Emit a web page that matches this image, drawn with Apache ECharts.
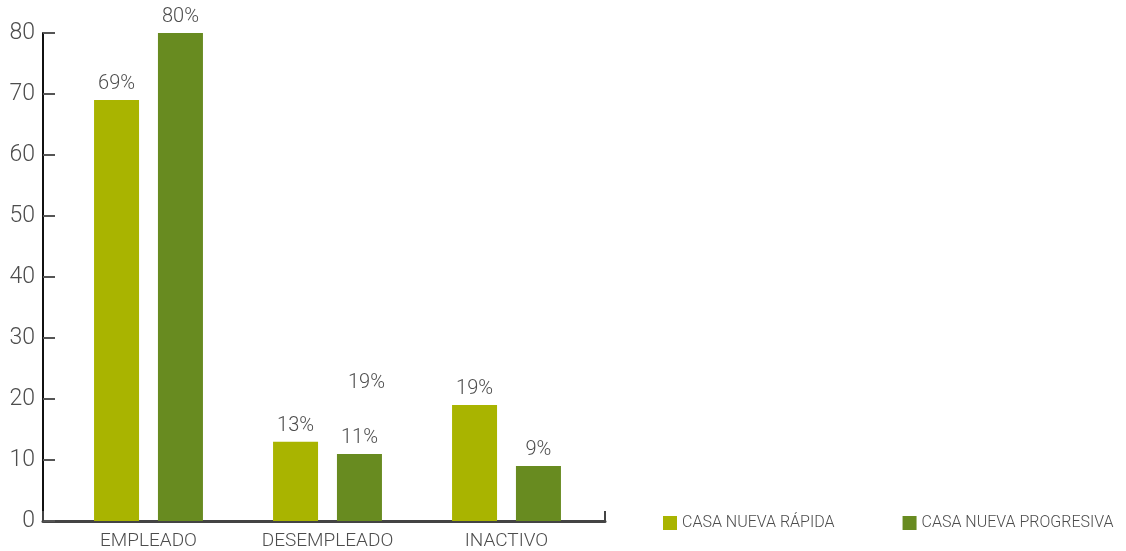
<!DOCTYPE html>
<html>
<head>
<meta charset="utf-8">
<script src="https://cdn.jsdelivr.net/npm/echarts@6/dist/echarts.min.js"></script>
<style>
  html, body { margin: 0; padding: 0; background: #fff; }
  #chart { width: 1126px; height: 551px; }
</style>
</head>
<body>
<div id="chart"></div>
<script>
// Situación laboral por tipo de casa
const categories = ['EMPLEADO', 'DESEMPLEADO', 'INACTIVO'];
const seriesNames = ['CASA NUEVA RÁPIDA', 'CASA NUEVA PROGRESIVA'];
const rapida = [69, 13, 19];
const progresiva = [80, 11, 9];
// extra note drawn above the DESEMPLEADO pair
const notaCategoria = 'DESEMPLEADO';
const notaValor = 22.5;
const notaTexto = '19%';

const FONT = 'Roboto, "Liberation Sans", sans-serif';
const TEXT = '#4d4d4d';

const chart = echarts.init(document.getElementById('chart'), null, { renderer: 'canvas' });

const barLabel = {
  show: true,
  position: 'top',
  distance: 6,
  formatter: '{c}%',
  fontFamily: FONT,
  fontWeight: 300,
  fontSize: 20,
  color: TEXT
};

chart.setOption({
  animation: false,
  backgroundColor: '#fff',
  grid: [
    { left: 59, right: 530, top: 33, bottom: 30, containLabel: false, outerBoundsMode: 'none' },
    { left: 43, right: 521, top: 33, bottom: 30, containLabel: false, outerBoundsMode: 'none' }
  ],
  legend: {
    data: seriesNames,
    left: 658,
    top: 510,
    itemWidth: 14,
    itemHeight: 14,
    itemGap: 68,
    icon: 'rect',
    textStyle: { fontFamily: FONT, fontWeight: 300, fontSize: 16, color: TEXT }
  },
  xAxis: [
    {
      type: 'category',
      gridIndex: 0,
      data: categories,
      axisLine: { show: false },
      axisTick: { show: false },
      axisLabel: {
        margin: 11,
        fontFamily: FONT,
        fontWeight: 300,
        fontSize: 19,
        color: TEXT
      }
    },
    {
      // baseline spanning the full plot width, with an end tick
      type: 'category',
      gridIndex: 1,
      data: ['', ''],
      boundaryGap: false,
      axisLine: { show: true, lineStyle: { color: '#444', width: 3 } },
      axisTick: { show: true, inside: true, length: 10, lineStyle: { color: '#444', width: 2 } },
      axisLabel: { show: false }
    }
  ],
  yAxis: [
    {
      type: 'value',
      gridIndex: 0,
      min: 0,
      max: 80,
      interval: 10,
      offset: 16,
      splitLine: { show: false },
      axisLine: { show: true, lineStyle: { color: '#111', width: 2 } },
      axisTick: { show: true, inside: true, length: 12, lineStyle: { color: '#555', width: 2 } },
      axisLabel: {
        margin: 8,
        fontFamily: FONT,
        fontWeight: 300,
        fontSize: 23,
        color: TEXT
      }
    },
    {
      type: 'value',
      gridIndex: 1,
      min: 0,
      max: 80,
      show: false
    }
  ],
  series: [
    {
      name: seriesNames[0],
      type: 'bar',
      xAxisIndex: 0,
      yAxisIndex: 0,
      data: rapida,
      barWidth: 45,
      barGap: '42%',
      itemStyle: { color: '#a9b400' },
      label: barLabel
    },
    {
      name: seriesNames[1],
      type: 'bar',
      xAxisIndex: 0,
      yAxisIndex: 0,
      data: progresiva,
      barWidth: 45,
      barGap: '42%',
      itemStyle: { color: '#688b20' },
      label: barLabel
    },
    {
      // free-standing note above the DESEMPLEADO bars
      name: 'nota',
      type: 'scatter',
      xAxisIndex: 0,
      yAxisIndex: 0,
      data: [[notaCategoria, notaValor]],
      symbolSize: 1,
      itemStyle: { color: 'rgba(0,0,0,0)' },
      silent: true,
      label: {
        show: true,
        position: 'top',
        distance: 0,
        offset: [39, 10],
        opacity: 1,
        formatter: notaTexto,
        fontFamily: FONT,
        fontWeight: 300,
        fontSize: 20,
        color: TEXT
      }
    }
  ]
});
</script>
</body>
</html>
